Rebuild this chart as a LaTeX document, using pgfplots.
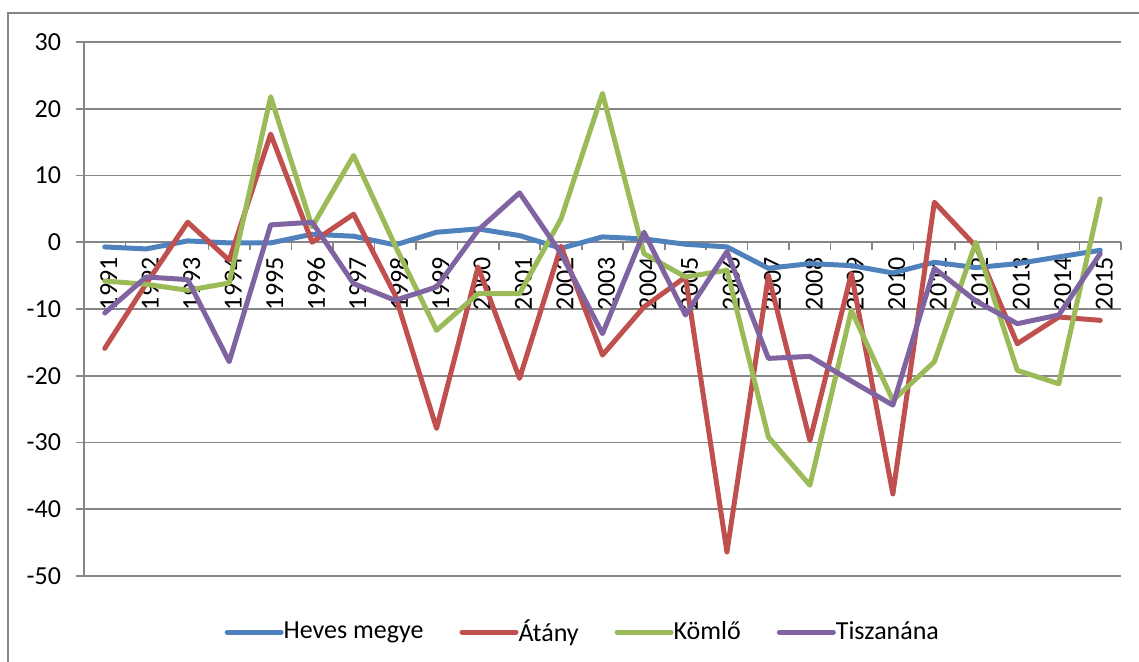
\documentclass[border=0pt]{standalone}
\usepackage{fontspec}
\setmainfont{Carlito}
\usepackage{pgfplots}
\pgfplotsset{compat=1.18}
\definecolor{sblue}{HTML}{4F81BD}
\definecolor{sred}{HTML}{C0504D}
\definecolor{sgreen}{HTML}{9BBB59}
\definecolor{spurple}{HTML}{8064A2}
\definecolor{gridgray}{RGB}{134,134,134}

% idx 0..24 = 1991..2015
\pgfplotstableread{
x heves atany komlo tisza
0  -0.7 -15.9  -5.8 -10.6
1  -1.0  -6.2  -6.3  -5.2
2   0.2   3.0  -7.2  -5.6
3  -0.1  -2.7  -6.1 -17.9
4  -0.1  16.2  21.8   2.6
5   1.2   0.0   2.3   3.0
6   0.9   4.2  13.0  -6.2
7  -0.4  -7.9  -0.5  -8.7
8   1.5 -27.9 -13.2  -6.7
9   2.0  -3.7  -7.7   1.8
10  1.0 -20.4  -7.7   7.4
11 -0.9  -0.6   3.5  -1.7
12  0.8 -16.9  22.3 -13.7
13  0.5  -9.7  -1.7   1.5
14 -0.3  -5.2  -5.2 -10.9
15 -0.7 -46.4  -4.2  -1.4
16 -3.9  -5.0 -29.2 -17.4
17 -3.2 -29.7 -36.4 -17.1
18 -3.5  -4.7 -10.2 -20.8
19 -4.6 -37.7 -23.7 -24.4
20 -3.0   6.0 -17.9  -3.9
21 -3.8  -0.6   0.0  -8.8
22 -3.2 -15.2 -19.2 -12.2
23 -2.2 -11.2 -21.2 -10.9
24 -1.2 -11.7   6.5  -1.7
}\data

\begin{document}
\begin{tikzpicture}
\useasboundingbox (0,0) rectangle (569.5pt,331pt);
\draw[gridgray, line width=0.8pt] (4pt,-5pt) -- (4pt,324.5pt) -- (580pt,324.5pt);
\begin{axis}[
    at={(42pt,43pt)}, anchor=south west,
    scale only axis,
    width=518.5pt, height=267pt,
    font=\fontsize{13pt}{15pt}\selectfont,
    xmin=-0.5, xmax=24.5,
    ymin=-50, ymax=30,
    axis x line=middle,
    axis y line=left,
    axis line style={-, gridgray, line width=0.8pt},
    ytick={-50,-40,...,30},
    ymajorgrids,
    grid style={gridgray, line width=0.8pt},
    xtick={0,...,24},
    xticklabels={1991,1992,1993,1994,1995,1996,1997,1998,1999,2000,2001,2002,2003,2004,2005,2006,2007,2008,2009,2010,2011,2012,2013,2014,2015},
    minor xtick={-0.5,0.5,...,24.5},
    major x tick style={draw=none},
    minor x tick style={gridgray, line width=0.8pt},
    y tick style={gridgray, line width=0.8pt},
    tick align=outside,
    major tick length=4pt,
    minor tick length=4pt,
    x tick label style={rotate=90, anchor=east, yshift=-2pt},
    y tick label style={xshift=-4pt},
    /pgf/number format/assume math mode=true,
    legend columns=4,
    legend style={at={(0.482,-0.105)}, anchor=center, draw=none, fill=none,
        font=\fontsize{13pt}{15pt}\selectfont,
        /tikz/every even column/.append style={column sep=16pt},
        /tikz/every odd column/.append style={column sep=-2pt}},
    legend image code/.code={\draw[#1] (0pt,0pt) -- (27pt,0pt);},
    every axis plot/.append style={line width=2.5pt, line join=round, line cap=round},
]
\addplot[sblue] table[x=x, y=heves] {\data};
\addlegendentry{Heves megye}
\addplot[sred] table[x=x, y=atany] {\data};
\addlegendentry{Átány}
\addplot[sgreen] table[x=x, y=komlo] {\data};
\addlegendentry{Kömlő}
\addplot[spurple] table[x=x, y=tisza] {\data};
\addlegendentry{Tiszanána}
\end{axis}
\end{tikzpicture}
\end{document}
